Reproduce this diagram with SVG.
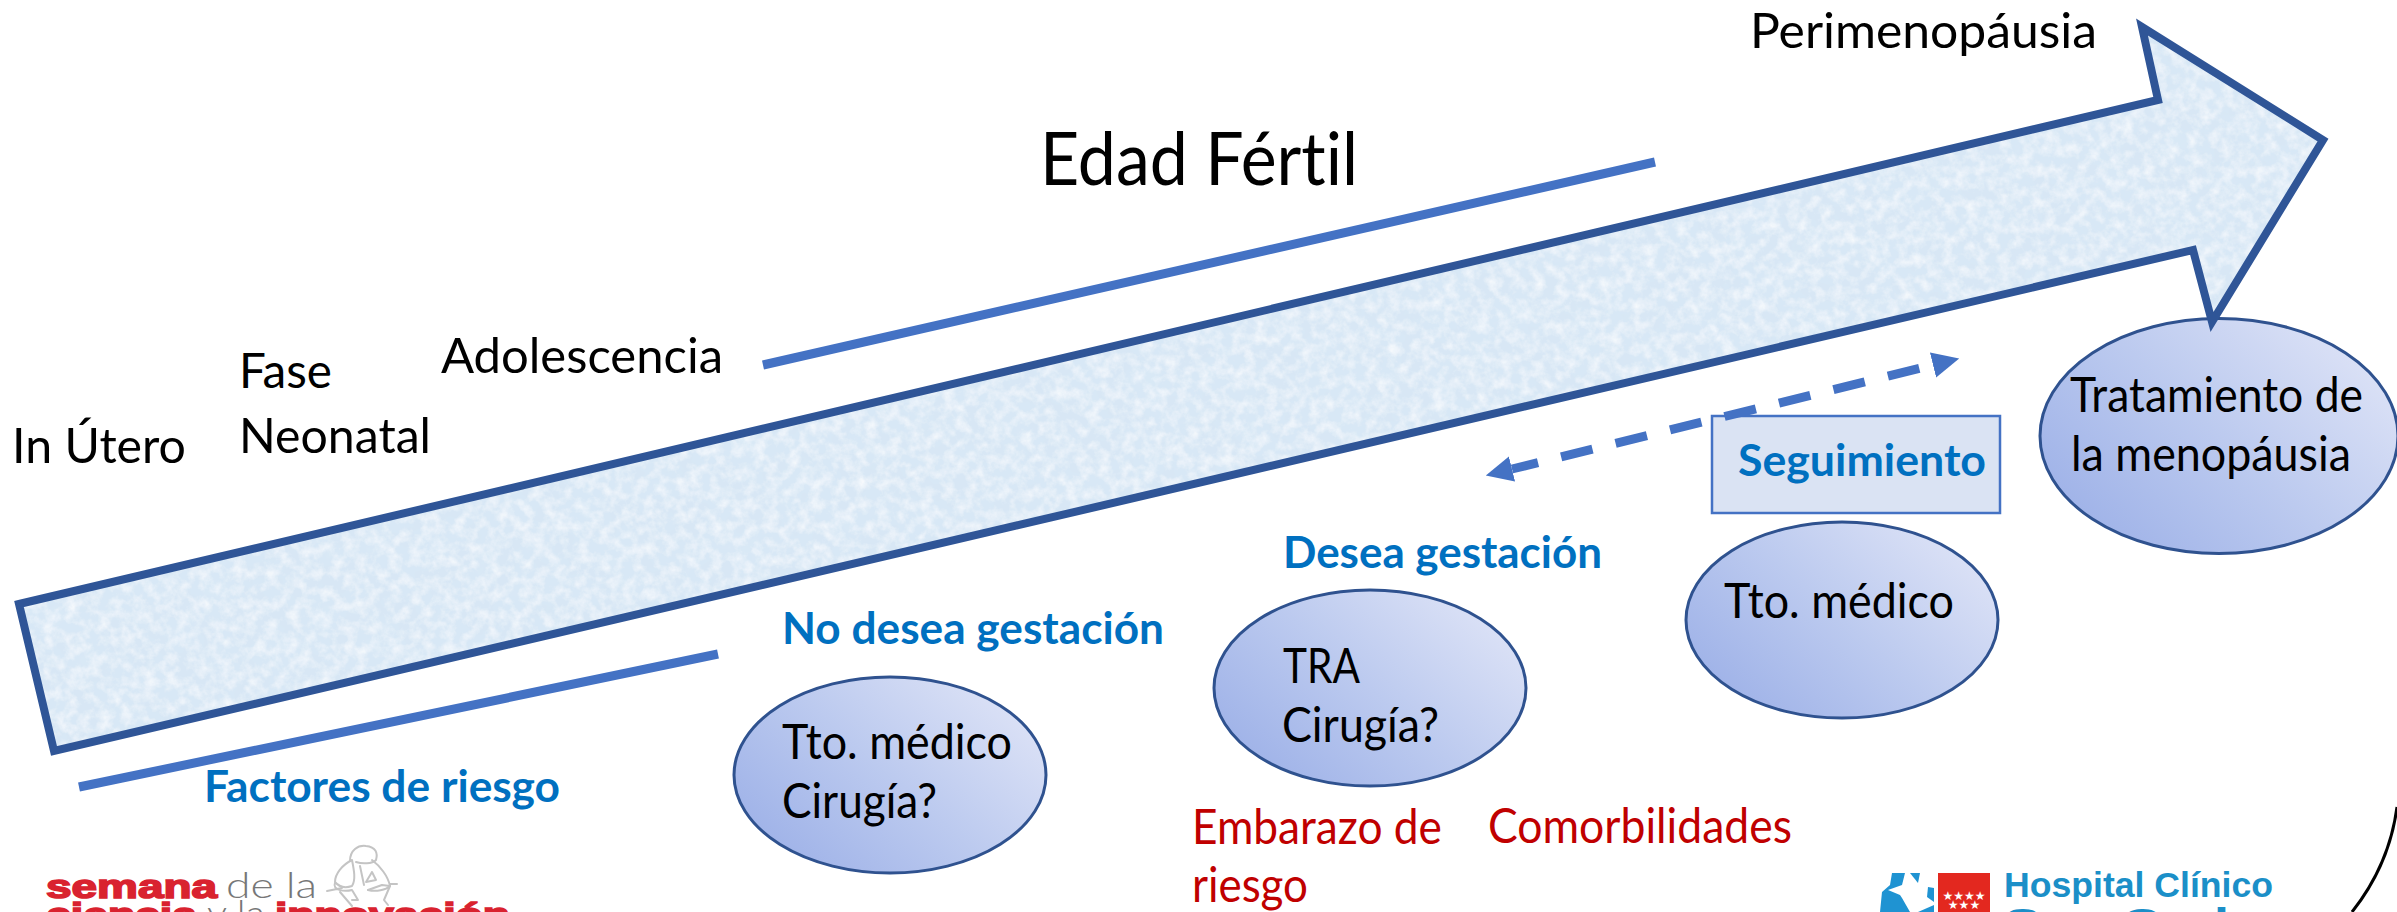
<svg xmlns="http://www.w3.org/2000/svg" width="2397" height="912" viewBox="0 0 2397 912">
  <style>
    text { font-family: "Lato", "Open Sans", "Liberation Sans", sans-serif; font-variant-ligatures: none; }
    .t { font-size: 48px; fill: #000; }
    .big { font-size: 73px; fill: #000; }
    .b { font-size: 44px; font-weight: 700; fill: #0070c0; }
    .r { font-size: 48px; fill: #c00000; }
    .el { fill: url(#eg); stroke: #2f528f; stroke-width: 3; }
    .ln { stroke: #4472c4; stroke-width: 9; fill: none; }
    .logo text { font-family: "Liberation Sans", Arial, sans-serif; }
    .sem { font-size: 33px; font-weight: 700; fill: #d9222f; stroke: #d9222f; stroke-width: 1.6; }
    .thin { font-family: "Lato", sans-serif !important; font-weight: 300; font-size: 36px; fill: #777; }
  </style>
  <defs>
    <linearGradient id="eg" x1="0" y1="0.85" x2="1" y2="0.15">
      <stop offset="0" stop-color="#9bafe7"/>
      <stop offset="0.5" stop-color="#bccaef"/>
      <stop offset="1" stop-color="#e0e5f7"/>
    </linearGradient>
    <filter id="paper" x="0" y="0" width="100%" height="100%">
      <feTurbulence type="fractalNoise" baseFrequency="0.09" numOctaves="4" seed="7" result="n1"/>
      <feColorMatrix in="n1" type="matrix" values="0 0 0 0 1  0 0 0 0 1  0 0 0 0 1  1.3 0 0 0 -0.5" result="light"/>
      <feTurbulence type="fractalNoise" baseFrequency="0.03" numOctaves="4" seed="21" result="n2"/>
      <feColorMatrix in="n2" type="matrix" values="0 0 0 0 0.70  0 0 0 0 0.82  0 0 0 0 0.93  1.4 0 0 0 -0.55" result="dark"/>
      <feMerge result="m">
        <feMergeNode in="SourceGraphic"/>
        <feMergeNode in="dark"/>
        <feMergeNode in="light"/>
      </feMerge>
      <feComposite in="m" in2="SourceAlpha" operator="in"/>
    </filter>
    <marker id="dh" markerUnits="userSpaceOnUse" markerWidth="27" markerHeight="28" viewBox="0 0 27 28" refX="0" refY="14" orient="auto-start-reverse">
      <path d="M0 1 L27 14 L0 27 Z" fill="#4472c4"/>
    </marker>
  </defs>

  <g id="node-tratamiento">
    <ellipse class="el" cx="2219" cy="436" rx="179" ry="117.5"/>
    <text class="t" x="2070" y="412" textLength="293" lengthAdjust="spacingAndGlyphs">Tratamiento de</text>
    <text class="t" x="2071" y="471" textLength="280" lengthAdjust="spacingAndGlyphs">la menopáusia</text>
  </g>

  <g id="node-flecha">
    <polygon points="19,604 2158,100 2142,27 2323,140 2212,322 2193,250 54,751" fill="#d8e7f5" filter="url(#paper)"/>
    <polygon points="19,604 2158,100 2142,27 2323,140 2212,322 2193,250 54,751" fill="none" stroke="#2f5597" stroke-width="8" stroke-miterlimit="10"/>
  </g>

  <g id="labels">
    <text class="t" x="1750" y="48" textLength="347" lengthAdjust="spacingAndGlyphs">Perimenopáusia</text>
    <text class="big" x="1040" y="185" textLength="318" lengthAdjust="spacingAndGlyphs">Edad Fértil</text>
    <text class="t" x="441" y="373" textLength="282" lengthAdjust="spacingAndGlyphs">Adolescencia</text>
    <text class="t" x="239" y="388" textLength="93" lengthAdjust="spacingAndGlyphs">Fase</text>
    <text class="t" x="239" y="453" textLength="192" lengthAdjust="spacingAndGlyphs">Neonatal</text>
    <text class="t" x="12" y="463" textLength="174" lengthAdjust="spacingAndGlyphs">In Útero</text>
    <text class="b" x="204" y="802" textLength="356" lengthAdjust="spacingAndGlyphs">Factores de riesgo</text>
    <text class="b" x="782" y="644" textLength="382" lengthAdjust="spacingAndGlyphs">No desea gestación</text>
    <text class="b" x="1283" y="568" textLength="319" lengthAdjust="spacingAndGlyphs">Desea gestación</text>
    <text class="r" x="1192" y="844" textLength="250" lengthAdjust="spacingAndGlyphs">Embarazo de</text>
    <text class="r" x="1192" y="902" textLength="116" lengthAdjust="spacingAndGlyphs">riesgo</text>
    <text class="r" x="1488" y="843" textLength="304" lengthAdjust="spacingAndGlyphs">Comorbilidades</text>
  </g>

  <g id="node-tto-cirugia">
    <ellipse class="el" cx="890" cy="775" rx="156" ry="98"/>
    <text class="t" x="782" y="759" textLength="230" lengthAdjust="spacingAndGlyphs">Tto. médico</text>
    <text class="t" x="782" y="818" textLength="155" lengthAdjust="spacingAndGlyphs">Cirugía?</text>
  </g>
  <g id="node-tra">
    <ellipse class="el" cx="1370" cy="688" rx="156" ry="98"/>
    <text class="t" x="1283" y="683" textLength="77" lengthAdjust="spacingAndGlyphs">TRA</text>
    <text class="t" x="1282" y="742" textLength="157" lengthAdjust="spacingAndGlyphs">Cirugía?</text>
  </g>
  <g id="node-tto">
    <ellipse class="el" cx="1842" cy="620" rx="156" ry="98"/>
    <text class="t" x="1724" y="618" textLength="230" lengthAdjust="spacingAndGlyphs">Tto. médico</text>
  </g>
  <g id="node-seguimiento">
    <rect x="1712" y="416" width="288" height="97" fill="#dae3f3" stroke="#4472c4" stroke-width="2.5"/>
    <text class="b" x="1738" y="476" textLength="248" lengthAdjust="spacingAndGlyphs">Seguimiento</text>
  </g>

  <g id="connectors">
    <line class="ln" x1="763" y1="365" x2="1655" y2="162"/>
    <line class="ln" x1="79" y1="787" x2="718" y2="654"/>
    <line class="ln" x1="1512" y1="469" x2="1933" y2="365" stroke-dasharray="32.3 23.8" stroke-dashoffset="5.5" marker-start="url(#dh)" marker-end="url(#dh)"/>
    <path d="M2397 807 Q2389.5 864.5 2352 912" fill="none" stroke="#000" stroke-width="3"/>
  </g>

  <g id="logo-semana" class="logo">
    <text class="sem" x="46" y="898" textLength="171" lengthAdjust="spacingAndGlyphs">semana</text>
    <text class="thin" x="226" y="898" textLength="91" lengthAdjust="spacingAndGlyphs">de la</text>
    <text class="sem" x="46" y="926" textLength="151" lengthAdjust="spacingAndGlyphs">ciencia</text>
    <text class="thin" x="207" y="926" textLength="58" lengthAdjust="spacingAndGlyphs">y la</text>
    <text class="sem" x="275" y="926" textLength="235" lengthAdjust="spacingAndGlyphs">innovación</text>
    <g fill="none" stroke="#c4c4c4" stroke-width="2" stroke-linecap="round" stroke-linejoin="round">
      <path d="M350 861 C350 850 358 845 366 846 C376 847 378 853 376 860 C372 864 362 864 356 862"/>
      <path d="M352 860 C342 865 335 874 335 882 C340 888 346 888 352 886 C356 880 354 870 352 860"/>
      <path d="M372 860 C380 866 388 876 390 886 C386 890 376 892 368 890"/>
      <path d="M360 866 L364 885 M372 872 L366 882 L376 880 Z"/>
      <path d="M335 883 C332 890 344 892 352 890 L358 900 L352 900 M368 890 L382 885 L390 886 L384 900 L388 905 M340 892 L352 906 M327 891 L342 888 M390 884 L397 884"/>
    </g>
  </g>

  <g id="logo-hospital" class="logo">
    <g fill="#1f93d2">
      <polygon points="1892,873 1905,873 1902,885 1888,890 1900,895 1902,898 1910,912 1880,912 1882,892 1890,885"/>
      <polygon points="1910,873 1920,873 1918,883"/>
      <polygon points="1928,887 1934,888 1934,902 1927,897"/>
      <polygon points="1918,912 1934,905 1934,912"/>
    </g>
    <rect x="1938" y="873" width="52" height="39" fill="#e3281f"/>
    <text x="1964" y="900" font-size="12" fill="#fff" text-anchor="middle" style="font-family:'DejaVu Sans',sans-serif">★★★★</text>
    <text x="1964" y="909" font-size="12" fill="#fff" text-anchor="middle" style="font-family:'DejaVu Sans',sans-serif">★★★</text>
    <g font-weight="700" fill="#1b8fc8">
      <text x="2004" y="897" font-size="35" textLength="269" lengthAdjust="spacingAndGlyphs">Hospital Clínico</text>
      <text x="2004" y="937" font-size="40" textLength="290" lengthAdjust="spacingAndGlyphs">San Carlos</text>
    </g>
  </g>
</svg>
